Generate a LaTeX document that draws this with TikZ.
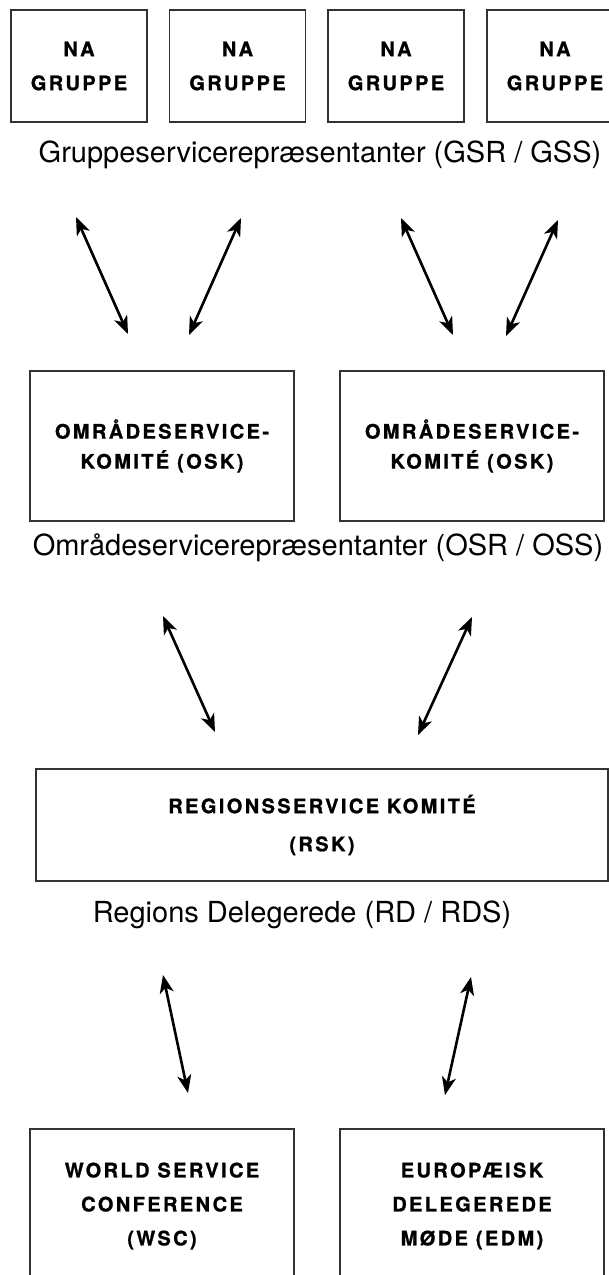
\documentclass[tikz,border=0pt]{standalone}
\usepackage{fontspec}
\setmainfont{TeX Gyre Heros}
\newfontfamily\boxfont{texgyreheros-bold.otf}[LetterSpace=12,FakeBold=1]
\usetikzlibrary{arrows.meta,shapes}

\tikzset{
  box/.style={draw=black!80,line width=.6pt,rectangle,align=center,inner sep=0pt,
    font=\boxfont\fontsize{10}{17}\selectfont},
  tight/.style={font=\boxfont\fontsize{10}{15}\selectfont},
  wide/.style={font=\boxfont\fontsize{10}{19}\selectfont},
  rep/.style={anchor=base,font=\fontsize{14.5}{17}\selectfont},
  link/.style={line width=1.3pt,{Stealth[length=9pt,width=7pt,inset=2.5pt]}-{Stealth[length=9pt,width=7pt,inset=2.5pt]}}
}

\begin{document}
\begin{tikzpicture}[x=.5pt,y=-.5pt]
  \clip (0,0) rectangle (609,1275);
  \node[box,minimum width=68pt,minimum height=56pt] (g1) at (79,66) {NA\\GRUPPE};
  \node[box,minimum width=68pt,minimum height=56pt] (g2) at (237.5,66) {NA\\GRUPPE};
  \node[box,minimum width=68pt,minimum height=56pt] (g3) at (396,66) {NA\\GRUPPE};
  \node[box,minimum width=68pt,minimum height=56pt] (g4) at (555,66) {NA\\GRUPPE};
  \node[rep] (gsr) at (320,162) {Gruppeservicerepræsentanter (GSR / GSS)};
  \node[box,tight,minimum width=132pt,minimum height=75pt] (o1) at (162,446) {OMRÅDESERVICE-\\KOMITÉ (OSK)};
  \node[box,tight,minimum width=132pt,minimum height=75pt] (o2) at (472,446) {OMRÅDESERVICE-\\KOMITÉ (OSK)};
  \node[rep] (osr) at (318,555) {Områdeservicerepræsentanter (OSR / OSS)};
  \node[box,wide,minimum width=286pt,minimum height=56pt] (rsk) at (322,825) {REGIONSSERVICE KOMITÉ\\(RSK)};
  \node[rep] (rd) at (302,922) {Regions Delegerede (RD / RDS)};
  \node[box,minimum width=132pt,minimum height=77pt] (wsc) at (162,1206) {WORLD SERVICE\\CONFERENCE\\(WSC)};
  \node[box,minimum width=132pt,minimum height=77pt] (edm) at (472,1206) {EUROPÆISK\\DELEGEREDE\\MØDE (EDM)};
  \coordinate (a1) at (76,217);
  \coordinate (a2) at (128,334);
  \coordinate (b1) at (241,218);
  \coordinate (b2) at (189,335);
  \coordinate (c1) at (401,218);
  \coordinate (c2) at (453,335);
  \coordinate (d1) at (558,220);
  \coordinate (d2) at (506,336);
  \coordinate (e1) at (163,616);
  \coordinate (e2) at (215,732);
  \coordinate (f1) at (472,617);
  \coordinate (f2) at (418,735);
  \coordinate (h1) at (163,975);
  \coordinate (h2) at (188,1093);
  \coordinate (k1) at (471,977);
  \coordinate (k2) at (445,1095);
  \draw[link] (a1)--(a2);
  \draw[link] (b1)--(b2);
  \draw[link] (c1)--(c2);
  \draw[link] (d1)--(d2);
  \draw[link] (e1)--(e2);
  \draw[link] (f1)--(f2);
  \draw[link] (h1)--(h2);
  \draw[link] (k1)--(k2);
\end{tikzpicture}
\end{document}
